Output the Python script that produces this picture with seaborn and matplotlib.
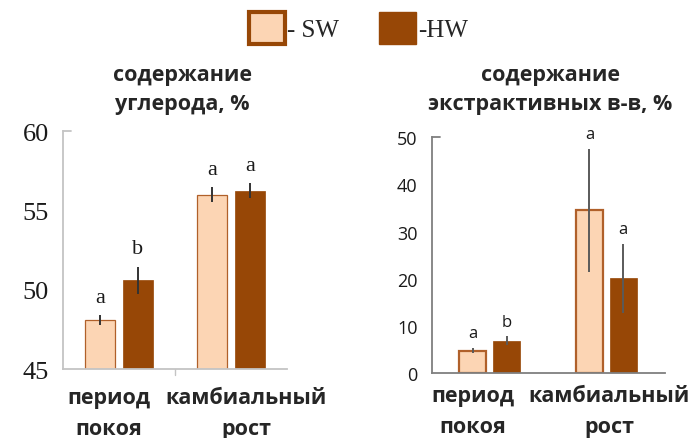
import matplotlib
matplotlib.use("Agg")
import matplotlib.pyplot as plt
from matplotlib.patches import Patch
from matplotlib.transforms import ScaledTranslation
import numpy as np
import pandas as pd
import seaborn as sns

# --- data -------------------------------------------------------------
periods = ["период\nпокоя", "камбиальный\nрост"]
woods = ["SW", "HW"]

carbon_sw = [48.1, 56.0]
carbon_hw = [50.6, 56.25]
carbon_sw_err = [0.3, 0.45]
carbon_hw_err = [0.85, 0.48]
carbon_letters_sw = ["a", "a"]
carbon_letters_hw = ["b", "a"]

extract_sw = [4.8, 34.5]
extract_hw = [6.9, 20.1]
extract_sw_err = [0.6, 13.1]
extract_hw_err = [0.9, 7.3]
extract_letters_sw = ["a", "a"]
extract_letters_hw = ["b", "a"]

carbon_ticks = [45, 50, 55, 60]
extract_ticks = [0, 10, 20, 30, 40, 50]

SW_FILL = "#fcd5b4"
SW_EDGE = "#b0602a"
HW_FILL = "#974706"

sns.set_theme(style="white")
plt.rcParams["font.family"] = ["Open Sans", "DejaVu Sans"]

fig = plt.figure(figsize=(6.96, 4.39), dpi=100)
ax1 = fig.add_axes([0.0905, 0.157, 0.322, 0.542])
ax2 = fig.add_axes([0.620, 0.1474, 0.335, 0.5376])


def long_frame(sw, hw):
    return pd.DataFrame({
        "period": periods * 2,
        "wood": ["SW"] * len(periods) + ["HW"] * len(periods),
        "value": list(sw) + list(hw),
    })


def draw_panel(ax, sw, hw, sw_err, hw_err, let_sw, let_hw, ylim, ticks,
               width, edge_lw, spine_col, err_col, tick_font, letter_font,
               letter_pad, label_pad, label_dx, sep_tick):
    df = long_frame(sw, hw)
    sns.barplot(data=df, x="period", y="value", hue="wood", hue_order=woods,
                order=periods, palette={"SW": SW_FILL, "HW": HW_FILL},
                width=width, gap=0.2, errorbar=None, legend=False, ax=ax,
                saturation=1)
    # bars: first the SW group, then the HW group
    bars = ax.patches
    n = len(periods)
    vals = list(sw) + list(hw)
    errs = list(sw_err) + list(hw_err)
    letters = list(let_sw) + list(let_hw)
    for i, b in enumerate(bars[:2 * n]):
        if i < n:
            b.set_edgecolor(SW_EDGE)
            b.set_linewidth(edge_lw)
        else:
            b.set_edgecolor(HW_FILL)
            b.set_linewidth(0.5)
        xc = b.get_x() + b.get_width() / 2
        ax.errorbar(xc, vals[i], yerr=errs[i], fmt="none", ecolor=err_col,
                    elinewidth=1.4, capsize=0, zorder=5)
        ax.annotate(letters[i], (xc, vals[i] + errs[i]),
                    xytext=(0, letter_pad), textcoords="offset points",
                    ha="center", va="bottom", **letter_font)

    ax.set_ylim(*ylim)
    ax.set_xlim(-0.5, len(periods) - 0.5)
    ax.set_yticks(ticks)
    ax.set_yticklabels([str(t) for t in ticks], **tick_font)
    ax.tick_params(axis="y", length=0, pad=10)
    ax.set_xticks([])
    ax.set_xlabel("")
    ax.set_ylabel("")
    for s in ["top", "right"]:
        ax.spines[s].set_visible(False)
    for s in ["left", "bottom"]:
        ax.spines[s].set_color(spine_col)
        ax.spines[s].set_linewidth(1.3)
    # small cap at the top of the value axis
    ax.plot([0, 0.035], [1, 1], transform=ax.transAxes, color=spine_col,
            lw=1.3, clip_on=False)
    if sep_tick:
        ax.plot([0.5, 0.5], [0, -0.025], transform=ax.transAxes,
                color=spine_col, lw=1.0, clip_on=False)

    # category labels
    for i, (lab, dx) in enumerate(zip(periods, label_dx)):
        tr = ax.get_xaxis_transform() + ScaledTranslation(
            dx / 100, -label_pad / 100, fig.dpi_scale_trans)
        ax.text(i, 0, lab, transform=tr, ha="center", va="top",
                multialignment="center", fontsize=15.5, fontweight="bold",
                linespacing=1.6)


draw_panel(ax1, carbon_sw, carbon_hw, carbon_sw_err, carbon_hw_err,
           carbon_letters_sw, carbon_letters_hw, (45, 60), carbon_ticks,
           width=0.67, edge_lw=0.9, spine_col="#c4c4c4", err_col="#333333",
           tick_font=dict(fontfamily="Liberation Serif", fontsize=19,
                          color="#1a1a1a"),
           letter_font=dict(fontfamily="Liberation Serif", fontsize=16,
                            color="#1a1a1a"),
           letter_pad=6, label_pad=18, label_dx=[-10, 15], sep_tick=True)

draw_panel(ax2, extract_sw, extract_hw, extract_sw_err, extract_hw_err,
           extract_letters_sw, extract_letters_hw, (0, 50), extract_ticks,
           width=0.58, edge_lw=1.6, spine_col="#7f7f7f", err_col="#5a5a5a",
           tick_font=dict(fontfamily="Open Sans", fontsize=13,
                          color="#1a1a1a"),
           letter_font=dict(fontfamily="Open Sans", fontsize=12,
                            color="#1a1a1a"),
           letter_pad=5, label_pad=12, label_dx=[-17, 3], sep_tick=False)

# panel titles
fig.text(182 / 696, 1 - 90 / 439, "содержание\nуглерода, %", ha="center",
         va="center", fontsize=15.5, fontweight="bold", linespacing=1.55)
fig.text(550 / 696, 1 - 90 / 439, "содержание\nэкстрактивных в-в, %",
         ha="center", va="center", fontsize=15.5, fontweight="bold",
         linespacing=1.55)

# legend
handles = [Patch(facecolor=SW_FILL, edgecolor=HW_FILL, linewidth=3.0),
           Patch(facecolor=HW_FILL, edgecolor=HW_FILL, linewidth=1.0)]
fig.legend(handles, ["- SW", "-HW"], loc="center", ncol=2, frameon=False,
           bbox_to_anchor=(0.515, 1 - 29 / 439),
           prop={"family": "Liberation Serif", "size": 18},
           handlelength=1.45, handleheight=1.6, handletextpad=0.1,
           columnspacing=1.6, borderaxespad=0)

fig.savefig("out.png", dpi=100)
